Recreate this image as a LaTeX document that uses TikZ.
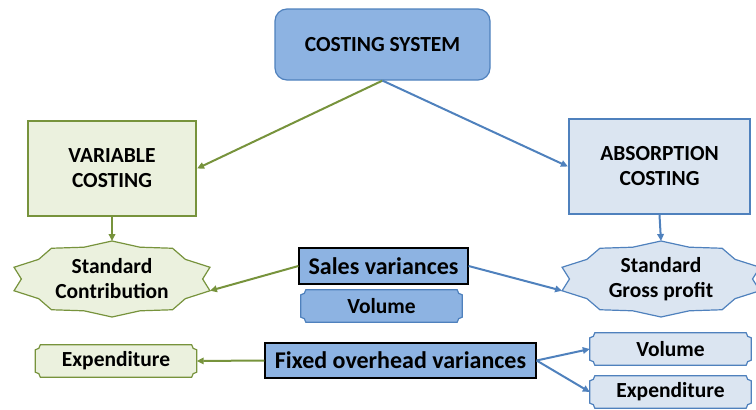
\documentclass[tikz,border=0pt]{standalone}
\usepackage{fontspec}
\setmainfont{Carlito}
\usetikzlibrary{arrows.meta,backgrounds,calc}

\definecolor{lineblue}{HTML}{4F81BD}
\definecolor{linegreen}{HTML}{77933C}
\definecolor{fillblue}{HTML}{8DB3E2}
\definecolor{paleblue}{HTML}{DBE5F1}
\definecolor{palegreen}{HTML}{EBF1DE}

% ten-pointed seal around a text node: centre, x radius, y radius, fill, line
\newcommand\sealshape[5]{%
  \draw[line width=1.2pt, draw=#5, fill=#4]
    ([shift={(#1)}]0:0.88*#2pt and 0.88*#3pt)
    \foreach \k [evaluate=\k as \ang using 18*\k,
                 evaluate=\k as \fac using {ifthenelse(mod(\k,2)==1,1,0.88)}] in {1,...,19}
      { -- ([shift={(#1)}]\ang:\fac*#2pt and \fac*#3pt) } -- cycle;}

% plaque (rectangle with concave corners) around a text node: node, fill, line
\newcommand\plaquebox[3]{%
  \draw[line width=1.2pt, draw=#3, fill=#2]
    ([xshift=5pt]#1.north west) -- ([xshift=-5pt]#1.north east)
    arc[start angle=180, end angle=270, radius=5pt]
    -- ([yshift=5pt]#1.south east)
    arc[start angle=90, end angle=180, radius=5pt]
    -- ([xshift=5pt]#1.south west)
    arc[start angle=0, end angle=90, radius=5pt]
    -- ([yshift=-5pt]#1.north west)
    arc[start angle=270, end angle=360, radius=5pt] -- cycle;}

\tikzset{
  txt/.style={align=center, inner sep=0pt},
  bigbox/.style={txt, line width=2.2pt},
  varbox/.style={bigbox, draw=linegreen, fill=palegreen},
  absbox/.style={bigbox, draw=lineblue, fill=paleblue},
  headbox/.style={txt, draw=black, line width=1.2pt, fill=fillblue,
                  font=\bfseries\fontsize{24}{27}\selectfont},
  gconn/.style={draw=linegreen, line width=2pt, -{Triangle[length=7pt,width=6.5pt]}},
  bconn/.style={draw=lineblue, line width=2pt, -{Triangle[length=7pt,width=6.5pt]}},
}

\begin{document}
\begin{tikzpicture}[x=1pt, y=-1pt, font=\bfseries\fontsize{21.5}{25}\selectfont]
\useasboundingbox (0,0) rectangle (756,410);

% top of the hierarchy
\node[txt, draw=lineblue, line width=1.2pt, fill=fillblue, rounded corners=12pt,
      minimum width=215pt, minimum height=71pt] (cs) at (382.5,44.5) {COSTING SYSTEM};

\node[varbox, minimum width=168pt, minimum height=95pt] (var) at (112,168.5) {VARIABLE\\COSTING};
\node[absbox, minimum width=181pt, minimum height=95pt] (abs) at (659.5,166.5) {ABSORPTION\\COSTING};

% profit measures
\node[txt] (sc) at (112,279) {Standard\\Contribution};
\node[txt] (gp) at (661,279) {Standard\\Gross profit};

% variances
\node[headbox, minimum width=169pt, minimum height=36pt] (sales) at (383.5,266) {Sales variances};
\node[txt, minimum width=161pt, minimum height=32pt] (volm) at (381.5,306) {Volume};
\node[headbox, minimum width=271pt, minimum height=35pt] (fov) at (400.5,360.5) {Fixed overhead variances};
\node[txt, minimum width=161pt, minimum height=32pt] (expl) at (116,361) {Expenditure};
\node[txt, minimum width=161pt, minimum height=32pt] (volr) at (670.5,349) {Volume};
\node[txt, minimum width=161pt, minimum height=32pt] (expr) at (670.5,392) {Expenditure};

\begin{scope}[on background layer]
  \sealshape{sc}{103}{38}{palegreen}{linegreen}
  \sealshape{gp}{104}{38}{paleblue}{lineblue}
  \plaquebox{volm}{fillblue}{lineblue}
  \plaquebox{expl}{palegreen}{linegreen}
  \plaquebox{volr}{paleblue}{lineblue}
  \plaquebox{expr}{paleblue}{lineblue}
\end{scope}

% seal points used as arrow targets
\coordinate (sc-top) at ([shift={(sc)}]90:103pt and 38pt);
\coordinate (sc-pt)  at ([shift={(sc)}]-18:103pt and 38pt);
\coordinate (gp-top) at ([shift={(gp)}]90:104pt and 38pt);
\coordinate (gp-pt)  at ([shift={(gp)}]198:104pt and 38pt);

% connectors
\draw[gconn] (cs.south) -- (var.east);
\draw[bconn] (cs.south) -- (abs.west);
\draw[gconn] (var.south) -- (sc-top);
\draw[bconn] (abs.south) -- (gp-top);
\draw[gconn] (sales.west) -- (sc-pt);
\draw[bconn] (sales.east) -- (gp-pt);
\draw[gconn] (fov.west) -- (expl.east);
\draw[bconn] (fov.east) -- (volr.west);
\draw[bconn] (fov.east) -- (expr.west);
\end{tikzpicture}
\end{document}
